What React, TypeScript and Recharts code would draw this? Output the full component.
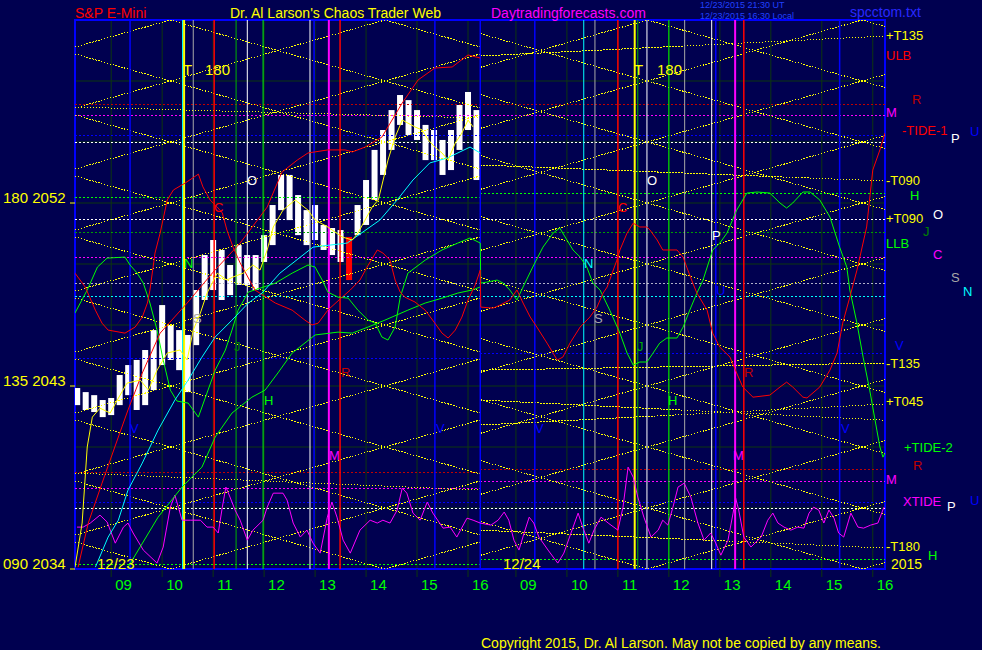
import React from "react";
import {
  ComposedChart,
  Line,
  Bar,
  XAxis,
  YAxis,
  CartesianGrid,
  ReferenceLine,
  ReferenceArea,
} from "recharts";

// x axis = "chart hours": 12/23 clock hours, 12/24 clock hours + DAY2_SHIFT
// (the overnight gap is squeezed out, as on the original page)
const DAY2_SHIFT = 7.94;
const DAY1_START = 8.29;
const DAY_SPLIT = 16.24;
const DAY2_END = 24.18;

const PRICE_LO = 2034;
const PRICE_HI = 2061;
const PRICE_GRID = [2034, 2037, 2040, 2043, 2046, 2049, 2052, 2055, 2058, 2061];
const PRICE_TAGS: Record<number, string> = { 2034: "090", 2043: "135", 2052: "180" };
const HOURS = [9, 10, 11, 12, 13, 14, 15, 16];

// 10 minute S&P bars on 12/23, from 08:20
const BAR_START = 8 + 20 / 60;
const BAR_STEP = 10 / 60;
const BAR_HIGH = [
  2042.9, 2042.7, 2042.55, 2042.31, 2042.41, 2043.54, 2044.03, 2044.28, 2044.77, 2045.75,
  2046.98, 2046.0, 2045.75, 2045.51, 2047.72, 2049.44, 2050.18, 2049.69, 2048.95, 2049.93,
  2049.44, 2049.44, 2050.42, 2051.9, 2053.38, 2053.38, 2052.39, 2051.65, 2051.9, 2050.92,
  2050.77, 2050.67, 2050.33, 2051.9, 2053.13, 2054.61, 2055.59, 2056.57, 2057.31, 2057.06,
  2056.57, 2055.84, 2055.59, 2055.1, 2055.59, 2056.82, 2057.46, 2056.57,
];
const BAR_LOW = [
  2042.06, 2041.82, 2041.72, 2041.47, 2041.57, 2042.06, 2042.55, 2041.82, 2042.06, 2042.8,
  2044.03, 2044.28, 2043.78, 2042.7, 2045.01, 2047.23, 2047.72, 2047.23, 2047.47, 2047.97,
  2047.97, 2047.72, 2049.1, 2049.93, 2051.65, 2051.16, 2050.42, 2049.93, 2050.18, 2049.69,
  2049.44, 2049.1, 2048.21, 2050.42, 2050.92, 2052.15, 2053.38, 2054.61, 2055.84, 2055.34,
  2055.1, 2054.11, 2054.11, 2053.38, 2053.62, 2054.61, 2055.59, 2053.13,
];
const RED_BARS = [32];

// curves: [chart hour, price]
const YELLOW_AVG = [
  [8.29, 2034.09], [8.43, 2036.26], [8.53, 2040.0], [8.63, 2041.47], [8.78, 2041.91], [8.98, 2041.67],
  [9.12, 2042.31], [9.31, 2043.14], [9.57, 2043.29], [9.73, 2042.8], [9.9, 2043.78], [10.1, 2044.62],
  [10.35, 2044.77], [10.49, 2044.28], [10.61, 2045.75], [10.75, 2046.59], [10.88, 2047.57], [11.08, 2048.55],
  [11.27, 2048.21], [11.39, 2048.36], [11.59, 2048.55], [11.78, 2048.95], [11.92, 2048.7], [12.06, 2049.69],
  [12.18, 2050.82], [12.37, 2051.65], [12.61, 2052.15], [12.86, 2051.65], [13.0, 2051.16], [13.25, 2050.82],
  [13.53, 2050.33], [13.73, 2050.18], [13.84, 2050.52], [13.98, 2051.16], [14.12, 2051.8], [14.24, 2052.15],
  [14.43, 2054.11], [14.57, 2055.24], [14.71, 2056.08], [14.82, 2055.93], [14.96, 2055.74], [15.1, 2055.59],
  [15.22, 2055.1], [15.35, 2054.75], [15.49, 2054.46], [15.61, 2054.11], [15.75, 2054.95], [15.88, 2055.44],
  [16.0, 2056.08], [16.1, 2055.74],
];
const CYAN_AVG = [
  [8.69, 2034.09], [8.94, 2035.57], [9.14, 2036.4], [9.33, 2037.88], [9.61, 2039.21], [9.92, 2040.83],
  [10.25, 2042.31], [10.51, 2043.29], [10.78, 2044.42], [11.04, 2045.41], [11.37, 2046.24], [11.69, 2047.08],
  [11.96, 2047.57], [12.31, 2048.55], [12.96, 2049.83], [13.63, 2050.03], [14.27, 2051.16], [14.61, 2052.15],
  [14.92, 2053.13], [15.25, 2053.97], [15.59, 2054.21], [16.04, 2054.75], [16.24, 2054.46],
];
const RED_RISE = [
  [8.35, 2034.09], [8.55, 2036.26], [8.82, 2038.22], [9.14, 2040.49], [9.33, 2041.82], [9.61, 2043.64],
  [9.96, 2045.6], [10.49, 2047.08], [11.0, 2048.6], [11.53, 2050.03], [12.06, 2051.8], [12.35, 2053.52],
  [12.65, 2054.11], [12.86, 2054.46], [13.25, 2054.61], [13.59, 2054.61], [13.73, 2054.51], [13.98, 2054.75],
  [14.31, 2055.24], [14.71, 2056.92], [15.02, 2058.05], [15.35, 2058.64], [15.69, 2058.69], [16.0, 2059.28],
  [16.24, 2059.13],
];
const GREEN_RISE = [
  [9.33, 2034.09], [9.92, 2036.55], [10.39, 2038.03], [10.78, 2039.01], [11.04, 2040.49], [11.37, 2041.67],
  [11.76, 2042.45], [12.02, 2042.8], [12.27, 2043.64], [12.55, 2044.62], [13.0, 2045.51], [13.45, 2045.65],
  [13.73, 2045.6], [14.04, 2045.9], [14.37, 2046.24], [14.82, 2046.73], [15.16, 2047.08], [15.49, 2047.32],
  [15.8, 2047.57], [16.08, 2047.72], [16.24, 2047.87],
];
// -TIDE-1
const RED_TIDE = [
  [8.29, 2048.55], [8.49, 2047.87], [8.69, 2046.73], [8.82, 2046.09], [8.94, 2045.75], [9.27, 2045.6],
  [9.47, 2045.9], [9.61, 2046.39], [9.71, 2047.08], [9.76, 2047.72], [9.86, 2049.54], [9.96, 2050.52],
  [10.1, 2052.15], [10.22, 2052.64], [10.45, 2052.98], [10.71, 2053.42], [10.8, 2052.79], [10.94, 2052.15],
  [11.08, 2051.8], [11.18, 2051.51], [11.27, 2050.67], [11.39, 2049.83], [11.53, 2049.05], [11.82, 2047.72],
  [12.22, 2047.08], [12.55, 2046.73], [12.8, 2046.24], [12.94, 2046.0], [13.06, 2046.09], [13.25, 2046.73],
  [13.53, 2047.37], [13.69, 2047.72], [13.88, 2048.21], [14.02, 2048.85], [14.22, 2049.69], [14.33, 2049.54],
  [14.47, 2049.19], [14.57, 2048.21], [14.67, 2047.62], [14.76, 2047.37], [14.96, 2047.13], [15.16, 2046.73],
  [15.35, 2046.09], [15.49, 2045.6], [15.61, 2045.36], [15.75, 2045.75], [15.88, 2046.39], [16.0, 2047.23],
  [16.14, 2047.96], [16.24, 2048.7],
  [16.25, 2046.88], [16.49, 2046.83], [16.63, 2046.98], [16.82, 2047.23], [16.96, 2047.72], [17.08, 2047.08],
  [17.22, 2046.39], [17.35, 2045.9], [17.55, 2045.11], [17.75, 2044.28], [17.86, 2044.42], [18.0, 2045.11],
  [18.2, 2045.9], [18.39, 2046.39], [18.53, 2046.88], [18.65, 2047.57], [18.73, 2047.87], [18.92, 2049.19],
  [18.98, 2049.69], [19.12, 2050.52], [19.24, 2051.01], [19.37, 2050.82], [19.51, 2050.82], [19.57, 2050.67],
  [19.71, 2050.18], [19.82, 2049.69], [20.1, 2049.69], [20.22, 2049.34], [20.29, 2048.85], [20.41, 2048.06],
  [20.49, 2047.57], [20.69, 2046.73], [20.8, 2045.6], [20.94, 2044.91], [21.14, 2044.42], [21.27, 2043.64],
  [21.39, 2042.95], [21.59, 2042.45], [21.92, 2042.55], [22.12, 2042.95], [22.25, 2043.19], [22.37, 2042.95],
  [22.57, 2042.45], [22.65, 2042.41], [22.9, 2042.95], [23.1, 2043.78], [23.24, 2044.62], [23.35, 2046.09],
  [23.49, 2047.37], [23.63, 2048.7], [23.82, 2050.82], [23.94, 2053.62], [24.08, 2054.61], [24.18, 2055.44],
];
// +TIDE-2
const GREEN_TIDE = [
  [8.29, 2046.59], [8.53, 2047.72], [8.73, 2048.85], [8.92, 2049.29], [9.27, 2049.34], [9.37, 2048.95],
  [9.51, 2048.55], [9.63, 2048.06], [9.76, 2047.08], [9.9, 2045.75], [10.02, 2044.28], [10.16, 2042.8],
  [10.29, 2042.26], [10.51, 2042.16], [10.71, 2041.47], [10.9, 2042.8], [11.04, 2043.78], [11.24, 2044.77],
  [11.37, 2045.75], [11.49, 2046.73], [11.69, 2047.62], [12.22, 2048.06], [12.55, 2048.55], [12.86, 2048.95],
  [13.0, 2048.85], [13.14, 2048.21], [13.25, 2047.62], [13.45, 2047.37], [13.65, 2047.32], [13.84, 2046.73],
  [14.04, 2046.24], [14.18, 2046.09], [14.31, 2045.41], [14.43, 2045.26], [14.57, 2045.9], [14.67, 2047.37],
  [14.82, 2048.55], [15.16, 2049.19], [15.49, 2049.69], [15.8, 2050.03], [16.04, 2050.28], [16.24, 2050.03],
  [16.25, 2048.06], [16.37, 2048.11], [16.57, 2048.21], [16.69, 2048.06], [16.82, 2047.72], [16.96, 2047.23],
  [17.08, 2047.87], [17.27, 2048.85], [17.47, 2049.83], [17.67, 2050.52], [17.8, 2050.77], [17.94, 2050.18],
  [18.06, 2049.69], [18.2, 2049.34], [18.33, 2048.85], [18.45, 2048.06], [18.59, 2047.72], [18.78, 2046.73],
  [18.98, 2045.6], [19.12, 2044.62], [19.24, 2044.03], [19.37, 2044.18], [19.51, 2044.18], [19.63, 2044.62],
  [19.76, 2045.11], [19.9, 2045.36], [20.1, 2045.36], [20.22, 2045.9], [20.35, 2046.73], [20.49, 2047.57],
  [20.61, 2048.21], [20.8, 2049.69], [20.94, 2050.03], [21.08, 2050.52], [21.27, 2051.65], [21.47, 2052.49],
  [21.67, 2052.54], [21.92, 2052.49], [22.12, 2052.0], [22.25, 2051.75], [22.37, 2052.0], [22.57, 2052.54],
  [22.71, 2052.54], [22.9, 2052.15], [23.1, 2051.31], [23.29, 2049.83], [23.43, 2048.85], [23.49, 2047.72],
  [23.63, 2046.09], [23.75, 2044.42], [23.88, 2042.8], [24.02, 2040.83], [24.08, 2040.0], [24.14, 2039.5],
  [24.18, 2039.7],
];
const XTIDE = [
  [8.33, 2036.06], [8.45, 2036.06], [8.59, 2036.26], [8.78, 2036.65], [8.92, 2036.31], [9.08, 2035.27],
  [9.24, 2036.06], [9.33, 2036.26], [9.43, 2035.77], [9.63, 2034.93], [9.9, 2034.29], [10.02, 2035.08],
  [10.16, 2037.04], [10.25, 2037.63], [10.39, 2036.4], [10.55, 2036.4], [10.75, 2036.4], [10.88, 2036.06],
  [11.0, 2036.06], [11.1, 2035.77], [11.18, 2037.04], [11.25, 2038.03], [11.33, 2037.54], [11.43, 2036.9],
  [11.53, 2036.4], [11.67, 2035.42], [11.78, 2035.91], [11.98, 2036.4], [12.06, 2037.04], [12.18, 2037.73],
  [12.37, 2037.73], [12.45, 2037.39], [12.57, 2036.26], [12.71, 2035.57], [12.84, 2035.91], [12.96, 2035.27],
  [13.1, 2034.78], [13.24, 2036.55], [13.33, 2037.29], [13.43, 2036.55], [13.55, 2035.42], [13.69, 2034.78],
  [13.88, 2035.91], [14.08, 2036.4], [14.22, 2036.26], [14.33, 2036.4], [14.47, 2036.26], [14.61, 2036.9],
  [14.71, 2037.98], [14.8, 2037.73], [14.92, 2036.75], [15.06, 2036.4], [15.2, 2037.29], [15.31, 2036.75],
  [15.51, 2036.01], [15.65, 2036.06], [15.78, 2035.57], [15.98, 2036.5], [16.1, 2036.4], [16.24, 2036.26],
  [16.45, 2036.16], [16.59, 2036.4], [16.71, 2036.8], [16.8, 2036.4], [16.9, 2035.42], [17.0, 2034.93],
  [17.1, 2035.77], [17.2, 2036.55], [17.29, 2036.26], [17.39, 2035.57], [17.57, 2034.93], [17.76, 2034.29],
  [17.88, 2034.78], [18.02, 2035.77], [18.16, 2036.75], [18.25, 2036.06], [18.37, 2035.27], [18.47, 2035.91],
  [18.61, 2036.55], [18.75, 2036.26], [18.94, 2035.91], [19.04, 2037.04], [19.14, 2039.01], [19.24, 2038.52],
  [19.33, 2037.54], [19.45, 2036.55], [19.59, 2035.57], [19.73, 2035.91], [19.82, 2036.4], [19.92, 2036.16],
  [20.02, 2037.04], [20.12, 2038.03], [20.24, 2038.22], [20.37, 2037.54], [20.51, 2036.26], [20.63, 2035.42],
  [20.76, 2035.77], [20.86, 2035.27], [20.96, 2034.68], [21.1, 2035.42], [21.2, 2036.75], [21.25, 2037.49],
  [21.31, 2036.9], [21.41, 2035.57], [21.55, 2035.08], [21.75, 2035.57], [21.88, 2036.4], [21.98, 2036.75],
  [22.08, 2036.26], [22.2, 2036.06], [22.33, 2035.91], [22.47, 2036.06], [22.59, 2036.01], [22.69, 2036.75],
  [22.78, 2037.04], [22.88, 2036.9], [22.98, 2036.26], [23.08, 2036.9], [23.18, 2036.5], [23.27, 2035.77],
  [23.37, 2035.57], [23.51, 2036.75], [23.65, 2036.06], [23.76, 2036.01], [23.9, 2036.16], [24.04, 2036.26],
  [24.16, 2037.04],
];

// fast time/price lines: price at the left and right edge of each day
const D1_FALL = [
  [2065.33, 2059.67], [2062.33, 2056.67], [2059.33, 2053.67], [2056.33, 2050.67], [2053.33, 2047.67],
  [2050.33, 2044.67], [2047.33, 2041.67], [2044.33, 2038.67], [2041.33, 2035.67], [2038.33, 2032.67],
  [2035.33, 2029.67],
];
const D1_RISE = [
  [2059.67, 2065.33], [2056.67, 2062.33], [2053.67, 2059.33], [2050.67, 2056.33], [2047.67, 2053.33],
  [2044.67, 2050.33], [2041.67, 2047.33], [2038.67, 2044.33], [2035.67, 2041.33], [2032.67, 2038.33],
  [2029.67, 2035.33],
];
const D2_FALL = [
  [2066.33, 2060.68], [2063.33, 2057.68], [2060.33, 2054.68], [2057.33, 2051.68], [2054.33, 2048.68],
  [2051.33, 2045.68], [2048.33, 2042.68], [2045.33, 2039.68], [2042.33, 2036.68], [2039.33, 2033.68],
  [2036.33, 2030.68],
];
const D2_RISE = [
  [2058.67, 2064.32], [2055.67, 2061.32], [2052.67, 2058.32], [2049.67, 2055.32], [2046.67, 2052.32],
  [2043.67, 2049.32], [2040.67, 2046.32], [2037.67, 2043.32], [2034.67, 2040.32], [2031.67, 2037.32],
  [2028.67, 2034.32],
];
// slow T lines
const D1_SLOW = [[2056.72, 2056.18], [2038.72, 2037.88]];
const D2_SLOW = [
  [2059.23, 2060.21], [2053.87, 2053.08], [2043.78, 2044.13], [2041.08, 2042.11], [2042.31, 2041.32],
  [2035.91, 2035.03],
];

// vertical time lines (chart hours)
const V_BLUE = [9.37, 12.98, 15.35, 16.24, 17.31, 20.86, 23.29];
const V_CYAN = [10.4, 18.27];
const V_YELLOW = [10.43, 19.27];
const V_GRAY = [10.61, 18.49, 20.25];
const V_RED = [11.02, 13.49, 18.94, 21.41];
const V_MIDGREEN = [11.45, 19.33];
const V_GREEN = [11.98, 19.94];
const V_WHITE = [11.67, 12.9, 19.51, 20.78];
const V_MAGENTA = [13.27, 21.24];

// horizontal levels, whole width
const H_DKRED = [2056.85];
const H_MAGENTA = [2056.3, 2049.34];
const H_BLUE = [2055.3, 2037.29];
const H_WHITE = [2054.97, 2051.21, 2036.97];
const H_DKGREEN = [2050.57];
const H_GRAY = [2048.06];
const H_CYAN = [2047.42];
// horizontal levels that shift at the day change: [12/23, 12/24]
const H2_GREEN = [[2052.29, 2052.49], [2034.24, 2034.49]];
const H2_BLUE = [[2044.37, 2044.62]];
const H2_RED = [[2038.77, 2038.87]];
const H2_MAGENTA = [[2037.98, 2038.28]];

const BG = "#000050";
const GRID = "#0d360f";
const FONT = "'Liberation Sans', Arial, Helvetica, sans-serif";

const toPts = (rows: number[][]) => rows.map(([t, p]) => ({ t, p }));
const seg = (t1: number, t2: number, a: number, b: number) => [
  { t: t1, p: a },
  { t: t2, p: b },
];

const bars = BAR_HIGH.map((hi, i) => ({
  t: BAR_START + i * BAR_STEP,
  lo: BAR_LOW[i],
  hi,
  red: RED_BARS.includes(i),
}));

const hourTicks = [...HOURS, ...HOURS.map((h) => h + DAY2_SHIFT)];

function line(key: string, data: any[], color: string, width = 1, dash?: string, crisp = false) {
  return (
    <Line
      key={key}
      data={data}
      dataKey="p"
      type="linear"
      stroke={color}
      strokeWidth={width}
      strokeDasharray={dash}
      shapeRendering={crisp ? "crispEdges" : undefined}
      dot={false}
      activeDot={false}
      legendType="none"
      isAnimationActive={false}
    />
  );
}

const PriceBar = (props: any) => {
  const { x, y, width, height, payload } = props;
  if (x == null || y == null) return null;
  return (
    <rect
      x={x + width / 2 - 3}
      y={y}
      width={6}
      height={Math.max(1, height)}
      fill={payload.red ? "#ff0000" : "#ffffff"}
    />
  );
};

const PriceTick = (props: any) => {
  const { y, payload } = props;
  const tag = PRICE_TAGS[payload.value];
  if (!tag) return <g />;
  return (
    <g>
      <text x={3} y={y} fill="#ffff00" fontSize={15} fontFamily={FONT}>
        {tag} {payload.value}
      </text>
      <line x1={70} x2={75} y1={y} y2={y} stroke="#ffff00" />
    </g>
  );
};

const HourTick = (props: any) => {
  const { x, y, payload } = props;
  const h = payload.value > DAY_SPLIT ? payload.value - DAY2_SHIFT : payload.value;
  return (
    <text x={x + 4} y={y} dy={13} fill="#00ff00" fontSize={15} fontFamily={FONT}>
      {String(Math.round(h)).padStart(2, "0")}
    </text>
  );
};

export default function App() {
  const vref = (times: number[], color: string, width = 1) =>
    times.map((t, i) => (
      <ReferenceLine key={color + "v" + i} x={t} stroke={color} strokeWidth={width} />
    ));
  const href = (levels: number[], color: string) =>
    levels.map((p, i) => (
      <ReferenceLine
        key={color + "h" + i}
        y={p}
        stroke={color}
        strokeDasharray="2 2"
        shapeRendering="crispEdges"
      />
    ));
  const hsplit = (pairs: number[][], color: string) =>
    pairs.flatMap(([a, b], i) => [
      line(color + "s1" + i, seg(DAY1_START, DAY_SPLIT, a, a), color, 1, "2 2", true),
      line(color + "s2" + i, seg(DAY_SPLIT, DAY2_END, b, b), color, 1, "2 2", true),
    ]);
  const lattice = (rows: number[][], t1: number, t2: number, key: string) =>
    rows.map(([a, b], i) => line(key + i, seg(t1, t2, a, b), "#ffff00", 1, "1.5 1.5", true));

  return (
    <div
      style={{
        position: "absolute",
        left: 0,
        top: 0,
        width: 982,
        height: 650,
        background: BG,
        overflow: "hidden",
        fontFamily: FONT,
      }}
    >
      <ComposedChart
        width={982}
        height={650}
        data={bars}
        margin={{ top: 20, right: 97, bottom: 51, left: 0 }}
      >
        <CartesianGrid stroke={GRID} />
        <XAxis
          dataKey="t"
          type="number"
          domain={[DAY1_START, DAY2_END]}
          ticks={hourTicks}
          interval={0}
          allowDataOverflow
          axisLine={false}
          tickLine={{ stroke: GRID }}
          tickSize={8}
          tickMargin={0}
          height={30}
          tick={(p: any) => <HourTick {...p} />}
        />
        <YAxis
          type="number"
          domain={[PRICE_LO, PRICE_HI]}
          ticks={PRICE_GRID}
          interval={0}
          allowDataOverflow
          axisLine={false}
          tickLine={false}
          width={75}
          tick={(p: any) => <PriceTick {...p} />}
        />

        {href(H_DKRED, "#c00000")}
        {href(H_MAGENTA, "#ff00ff")}
        {href(H_BLUE, "#0000ff")}
        {href(H_WHITE, "#ffffff")}
        {href(H_DKGREEN, "#00a000")}
        {href(H_GRAY, "#b0b0c8")}
        {href(H_CYAN, "#00ffff")}
        {hsplit(H2_GREEN, "#00ff00")}
        {hsplit(H2_BLUE, "#0000ff")}
        {hsplit(H2_RED, "#c00000")}
        {hsplit(H2_MAGENTA, "#ff00ff")}

        {lattice(D1_FALL, DAY1_START, DAY_SPLIT, "d1f")}
        {lattice(D1_RISE, DAY1_START, DAY_SPLIT, "d1r")}
        {lattice(D2_FALL, DAY_SPLIT, DAY2_END, "d2f")}
        {lattice(D2_RISE, DAY_SPLIT, DAY2_END, "d2r")}
        {lattice(D1_SLOW, DAY1_START, DAY_SPLIT, "d1s")}
        {lattice(D2_SLOW, DAY_SPLIT, DAY2_END, "d2s")}

        {vref(V_BLUE, "#0000ff", 1.5)}
        {vref(V_CYAN, "#00ffff")}
        {vref(V_YELLOW, "#ffff00", 2)}
        {vref(V_GRAY, "#a8a8a8")}
        {vref(V_RED, "#ff0000", 1.5)}
        {vref(V_MIDGREEN, "#00b000")}
        {vref(V_GREEN, "#00ff00")}
        {vref(V_WHITE, "#ffffff")}
        {vref(V_MAGENTA, "#ff00ff", 2)}

        <Bar
          dataKey={(d: any) => [d.lo, d.hi]}
          barSize={6}
          shape={PriceBar}
          legendType="none"
          isAnimationActive={false}
        />

        {line("xtide", toPts(XTIDE), "#ff00ff")}
        {line("greenrise", toPts(GREEN_RISE), "#00ff00")}
        {line("greentide", toPts(GREEN_TIDE), "#00ff00")}
        {line("redtide", toPts(RED_TIDE), "#ff0000")}
        {line("redrise", toPts(RED_RISE), "#ff0000")}
        {line("cyan", toPts(CYAN_AVG), "#00ffff")}
        {line("yellow", toPts(YELLOW_AVG), "#ffff00")}

        <ReferenceArea
          x1={DAY1_START}
          x2={DAY2_END}
          y1={PRICE_LO}
          y2={PRICE_HI}
          fill="none"
          fillOpacity={0}
          stroke="#0000ff"
          strokeWidth={2}
        />
      </ComposedChart>

      <svg
        width={982}
        height={650}
        style={{ position: "absolute", left: 0, top: 0, pointerEvents: "none" }}
        fontFamily={FONT}
        fontSize={13}
      >
        <g fontSize={14}>
          <text x={75} y={18} fill="#ff0000">S&amp;P E-Mini</text>
          <text x={230} y={18} fill="#ffff00">Dr. Al Larson's Chaos Trader Web</text>
          <text x={491} y={18} fill="#ff00ff">Daytradingforecasts.com</text>
          <text x={850} y={17} fill="#2828ff">spcctom.txt</text>
          <text x={481} y={648} fill="#ffff00">
            Copyright 2015, Dr. Al Larson. May not be copied by any means.
          </text>
        </g>
        <g fontSize={9} fill="#2040ff">
          <text x={700} y={8}>12/23/2015 21:30  UT</text>
          <text x={700} y={19}>12/23/2015 16:30 Local</text>
        </g>

        <g fontSize={15}>
          <text x={183} y={75} fill="#ffff00">T</text>
          <text x={205} y={75} fill="#ffff00">180</text>
          <text x={634} y={75} fill="#ffff00">T</text>
          <text x={657} y={75} fill="#ffff00">180</text>
          <text x={97} y={569} fill="#ffff00">12/23</text>
          <text x={503} y={569} fill="#ffff00">12/24</text>
        </g>

        <g fontSize={13}>
          <text x={247} y={185} fill="#ffffff">O</text>
          <text x={647} y={185} fill="#ffffff">O</text>
          <text x={214} y={212} fill="#ff0000">C</text>
          <text x={618} y={212} fill="#ff0000">C</text>
          <text x={184} y={268} fill="#00ff00">N</text>
          <text x={584} y={268} fill="#00ffff">N</text>
          <text x={193} y={323} fill="#a8a8a8">S</text>
          <text x={594} y={323} fill="#a8a8a8">S</text>
          <text x={234} y={351} fill="#008000">J</text>
          <text x={637} y={351} fill="#00b000">J</text>
          <text x={264} y={405} fill="#00ff00">H</text>
          <text x={668} y={405} fill="#00ff00">H</text>
          <text x={712} y={240} fill="#ffffff">P</text>
          <text x={716} y={295} fill="#0000ff">U</text>
          <text x={341} y={377} fill="#c00000">R</text>
          <text x={744} y={377} fill="#c00000">R</text>
          <text x={329} y={460} fill="#ff00ff">M</text>
          <text x={733} y={460} fill="#ff00ff">M</text>
          <text x={130} y={433} fill="#0000ff">V</text>
          <text x={436} y={433} fill="#0000ff">V</text>
          <text x={535} y={433} fill="#0000ff">V</text>
          <text x={841} y={433} fill="#0000ff">V</text>
        </g>

        <text x={886} y={40} fill="#ffff00">+T135</text>
        <text x={886} y={60} fill="#ff0000">ULB</text>
        <text x={912} y={104} fill="#c00000">R</text>
        <text x={886} y={117} fill="#ff00ff">M</text>
        <text x={902} y={135} fill="#ff0000">-TIDE-1</text>
        <text x={951} y={143} fill="#ffffff">P</text>
        <text x={970} y={136} fill="#0000ff">U</text>
        <text x={886} y={185} fill="#ffff00">-T090</text>
        <text x={910} y={200} fill="#00ff00">H</text>
        <text x={886} y={223} fill="#ffff00">+T090</text>
        <text x={933} y={219} fill="#ffffff">O</text>
        <text x={923} y={236} fill="#008000">J</text>
        <text x={886} y={248} fill="#00ff00">LLB</text>
        <text x={933} y={259} fill="#ff00ff">C</text>
        <text x={951} y={282} fill="#a8a8a8">S</text>
        <text x={963} y={296} fill="#00ffff">N</text>
        <text x={895} y={350} fill="#0000ff">V</text>
        <text x={886} y={368} fill="#ffff00">-T135</text>
        <text x={886} y={406} fill="#ffff00">+T045</text>
        <text x={904} y={452} fill="#00ff00">+TIDE-2</text>
        <text x={913} y={470} fill="#c00000">R</text>
        <text x={886} y={484} fill="#ff00ff">M</text>
        <text x={903} y={506} fill="#ff00ff">XTIDE</text>
        <text x={947} y={511} fill="#ffffff">P</text>
        <text x={970} y={505} fill="#0000ff">U</text>
        <text x={886} y={551} fill="#ffff00">-T180</text>
        <text x={928} y={560} fill="#00ff00">H</text>
        <text x={891} y={569} fill="#ffff00" fontSize={14}>2015</text>
      </svg>
    </div>
  );
}
